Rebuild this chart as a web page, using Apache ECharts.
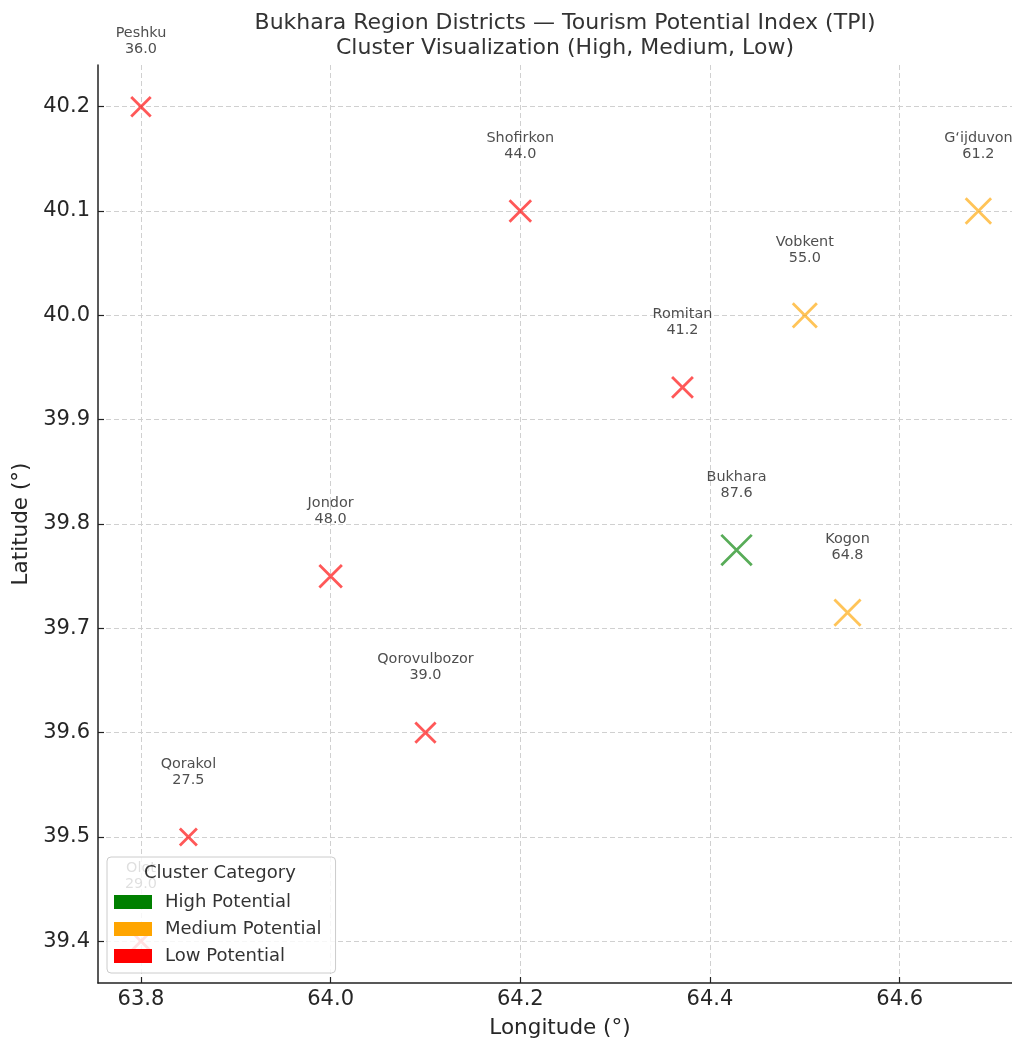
<!DOCTYPE html>
<html>
<head>
<meta charset="utf-8">
<script src="https://cdn.jsdelivr.net/npm/echarts@6/dist/echarts.min.js"></script>
<style>html,body{margin:0;padding:0;background:#fff}#c{width:1012px;height:1041px}</style>
</head>
<body>
<div id="c"></div>
<script>
const districts = ['Bukhara','Kogon','G\u2018ijduvon','Vobkent','Romitan','Shofirkon','Jondor','Qorovulbozor','Peshku','Qorakol','Olot'];
const longitudes = [64.428, 64.545, 64.683, 64.5, 64.371, 64.2, 64.0, 64.1, 63.8, 63.85, 63.8];
const latitudes = [39.775, 39.715, 40.1, 40.0, 39.931, 40.1, 39.75, 39.6, 40.2, 39.5, 39.4];
const tpiValues = [87.6, 64.8, 61.2, 55.0, 41.2, 44.0, 48.0, 39.0, 36.0, 27.5, 29.0];
const clusters = ['High','Medium','Medium','Medium','Low','Low','Low','Low','Low','Low','Low'];
const clusterKeys = ['High','Medium','Low'];
const clusterNames = ['High Potential','Medium Potential','Low Potential'];
const clusterColors = ['#008000','#ffa500','#ff0000'];
const xTicks = [63.8, 64.0, 64.2, 64.4, 64.6];
const yTicks = [39.4, 39.5, 39.6, 39.7, 39.8, 39.9, 40.0, 40.1, 40.2];

const FONT = '"DejaVu Sans", sans-serif';
const chart = echarts.init(document.getElementById('c'));

const series = clusterKeys.map((k, ci) => ({
  type: 'scatter',
  name: clusterNames[ci],
  symbol: 'path://M0,0L10,10M10,0L0,10',
  symbolSize: (v) => 3.25 * Math.sqrt(v[2]),
  clip: false,
  itemStyle: { color: 'rgba(0,0,0,0)', borderColor: echarts.color.modifyAlpha(clusterColors[ci], 0.82), borderWidth: 2.8 },
  emphasis: { disabled: true },
  label: {
    show: true,
    position: 'inside',
    verticalAlign: 'bottom',
    align: 'center',
    offset: [0, -49],
    formatter: (p) => p.data[3] + '\n' + p.data[2].toFixed(1),
    fontFamily: FONT,
    fontSize: 14.4,
    lineHeight: 16,
    color: '#222'
  },
  data: districts.map((d, i) => clusters[i] === k ? [longitudes[i], latitudes[i], tpiValues[i], d] : null).filter(Boolean)
}));

chart.setOption({
  animation: false,
  backgroundColor: '#fff',
  textStyle: { fontFamily: FONT },
  title: {
    text: 'Bukhara Region Districts \u2014 Tourism Potential Index (TPI)\nCluster Visualization (High, Medium, Low)',
    left: 560, top: 6, textAlign: 'center',
    textStyle: { fontFamily: FONT, fontSize: 22, fontWeight: 'normal', color: '#333', lineHeight: 25 }
  },
  grid: { left: 98, right: -10, top: 65, bottom: 58, containLabel: false, outerBoundsMode: 'none' },
  xAxis: {
    type: 'value', min: 63.7547, max: 64.729,
    name: 'Longitude (\u00b0)', nameLocation: 'middle', nameGap: 34,
    nameTextStyle: { fontFamily: FONT, fontSize: 21.5, color: '#262626' },
    axisLine: { onZero: false, lineStyle: { color: '#222', width: 1.5 } },
    axisTick: { show: true, inside: true, length: 6, lineStyle: { color: '#222', width: 1.2 }, customValues: xTicks },
    axisLabel: { fontFamily: FONT, fontSize: 21, color: '#262626', margin: 6, customValues: xTicks, formatter: (v) => v.toFixed(1) },
    splitLine: { show: true, lineStyle: { color: '#d0d0d0', type: [5, 3], width: 1 } }
  },
  yAxis: {
    type: 'value', min: 39.36, max: 40.24,
    name: 'Latitude (\u00b0)', nameLocation: 'middle', nameGap: 63, nameRotate: 90,
    nameTextStyle: { fontFamily: FONT, fontSize: 21.5, color: '#262626' },
    axisLine: { show: true, onZero: false, lineStyle: { color: '#222', width: 1.5 } },
    axisTick: { show: true, inside: true, length: 6, lineStyle: { color: '#222', width: 1.2 }, customValues: yTicks },
    axisLabel: { fontFamily: FONT, fontSize: 21, color: '#262626', margin: 8, customValues: yTicks, formatter: (v) => v.toFixed(1) },
    splitLine: { show: true, lineStyle: { color: '#d0d0d0', type: [5, 3], width: 1 } }
  },
  legend: {
    orient: 'vertical', left: 107, top: 857,
    padding: [36, 14, 8, 7],
    itemGap: 9, itemWidth: 38, itemHeight: 14,
    backgroundColor: 'rgba(255,255,255,0.82)', borderColor: '#cccccc', borderWidth: 1, borderRadius: 4,
    icon: 'rect',
    textStyle: { fontFamily: FONT, fontSize: 18, color: '#333', padding: [0, 0, 0, 8] },
    selectedMode: false,
    data: clusterNames.map((n, i) => ({ name: n, icon: 'rect', itemStyle: { color: clusterColors[i], opacity: 1, borderWidth: 0 } }))
  },
  graphic: [{
    type: 'text', left: 144, top: 864, z: 100,
    style: { text: 'Cluster Category', fontFamily: FONT, fontSize: 18, fill: '#333' }
  }],
  series: series
});
</script>
</body>
</html>
